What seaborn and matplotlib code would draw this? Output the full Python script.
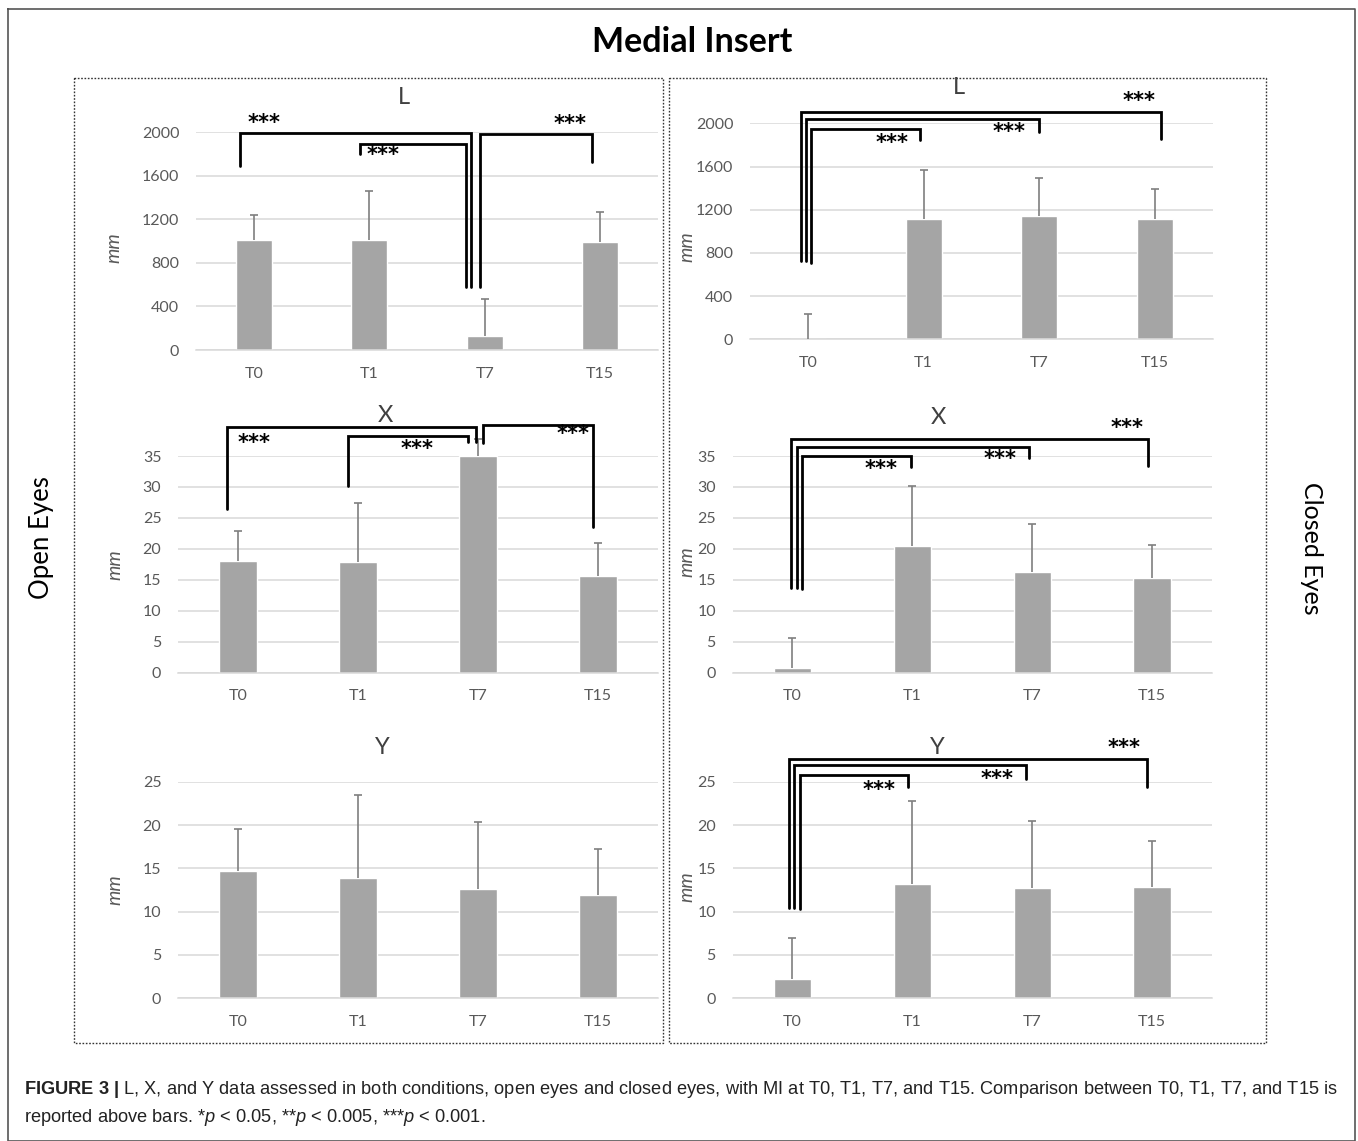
import matplotlib
matplotlib.use("Agg")
import matplotlib.pyplot as plt
import numpy as np
import pandas as pd
import seaborn as sns

# categories and values (mean, upper SD)
times = ["T0", "T1", "T7", "T15"]

open_L = [1005, 1005, 129, 995]
open_L_sd = [238, 453, 340, 267]
open_X = [17.98, 17.82, 35.0, 15.62]
open_X_sd = [4.90, 9.64, 2.70, 5.27]
open_Y = [14.65, 13.92, 12.58, 11.96]
open_Y_sd = [4.93, 9.54, 7.80, 5.31]

closed_L = [0, 1111, 1142, 1111]
closed_L_sd = [235, 457, 352, 278]
closed_X = [0.75, 20.50, 16.20, 15.24]
closed_X_sd = [4.85, 9.65, 7.80, 5.46]
closed_Y = [2.23, 13.23, 12.73, 12.88]
closed_Y_sd = [4.77, 9.57, 7.77, 5.27]

# significance brackets: (x_left, x_right, y_top, y_left_end, y_right_end)
open_L_brackets = [(-0.12, 1.88, 1995, 1684, 576),
                   (0.92, 1.84, 1893, 1795, 576),
                   (1.96, 2.93, 1979, 576, 1724)]
open_L_stars = [(0.09, 2083), (1.12, 1786), (2.74, 2070)]
open_X_brackets = [(-0.09, 1.98, 39.7, 26.5, 37.3),
                   (0.92, 1.92, 38.2, 30.1, 37.3),
                   (2.04, 2.96, 40.0, 37.1, 23.6)]
open_X_stars = [(0.13, 37.1), (1.49, 36.1), (2.79, 38.5)]

closed_L_brackets = [(-0.056, 3.05, 2102, 725, 1852),
                     (-0.013, 2.00, 2037, 725, 1923),
                     (0.027, 0.97, 1948, 710, 1846)]
closed_L_stars = [(0.73, 1821), (1.74, 1923), (2.86, 2207)]
closed_X_brackets = [(-0.016, 2.97, 37.7, 13.6, 33.4),
                     (0.04, 1.97, 36.5, 13.6, 34.6),
                     (0.083, 0.99, 35.0, 13.5, 33.3)]
closed_X_stars = [(0.74, 32.85), (1.73, 34.46), (2.79, 39.6)]
closed_Y_brackets = [(-0.03, 2.96, 27.65, 10.46, 24.4),
                     (0.016, 1.95, 26.9, 10.38, 25.3),
                     (0.064, 0.96, 25.8, 10.27, 24.35)]
closed_Y_stars = [(0.72, 24.04), (1.71, 25.27), (2.77, 28.85)]

W, H = 1358, 1141
BAR = "#a5a5a5"
GRID = "#d9d9d9"
TICK = "#595959"

sns.set_theme(style="white")
plt.rcParams["font.family"] = ["Lato", "DejaVu Sans"]
plt.rcParams["mathtext.fontset"] = "custom"
plt.rcParams["mathtext.rm"] = "Liberation Sans"
plt.rcParams["mathtext.it"] = "Liberation Sans:italic"
plt.rcParams["mathtext.bf"] = "Liberation Sans:bold"

fig = plt.figure(figsize=(W / 100, H / 100), dpi=100)
fig.patch.set_facecolor("white")


def fx(x):
    return x / W


def fy(y):
    return 1 - y / H


def panel(x0, x1, ytop, ybot, vals, sds, ymax, step, title, tpos, mpos,
          brackets=(), stars=()):
    ax = fig.add_axes([fx(x0), fy(ybot), (x1 - x0) / W, (ybot - ytop) / H])
    df = pd.DataFrame({"time": times, "value": vals})
    sns.barplot(data=df, x="time", y="value", color=BAR, saturation=1,
                width=0.31, errorbar=None, ax=ax, zorder=2)
    eb = ax.errorbar(np.arange(len(times)), vals,
                     yerr=[np.zeros(len(vals)), sds], fmt="none",
                     ecolor="#7f7f7f", elinewidth=1.2, capsize=2.6,
                     capthick=1.2, clip_on=False, zorder=3)
    # only the upper cap is visible in the original
    eb[1][0].set_visible(False)
    ax.set_xlim(-0.5, 3.5)
    ax.set_ylim(0, ymax)
    ax.set_yticks(np.arange(0, ymax + step / 2, step))
    ax.set_axisbelow(True)
    ax.yaxis.grid(True, color=GRID, lw=1.1)
    ax.xaxis.grid(False)
    for s in ["top", "right", "left"]:
        ax.spines[s].set_visible(False)
    ax.spines["bottom"].set_color(GRID)
    ax.spines["bottom"].set_linewidth(1.1)
    ax.tick_params(axis="both", length=0, labelsize=11.5, labelcolor=TICK)
    ax.tick_params(axis="y", pad=12)
    ax.tick_params(axis="x", pad=12)
    ax.set_xlabel("")
    ax.set_ylabel("")
    ax.patch.set_alpha(0)
    for (xl, xr, yt, yl, yr) in brackets:
        ax.plot([xl, xl, xr, xr], [yl, yt, yt, yr], color="black", lw=2.0,
                clip_on=False, zorder=4, solid_joinstyle="miter")
    for (sx, sy) in stars:
        ax.text(sx, sy, "***", ha="center", va="center", fontsize=15,
                fontweight="bold", family="DejaVu Sans", color="black",
                clip_on=False, zorder=5)
    fig.text(fx(tpos[0]), fy(tpos[1]), title, ha="center", va="center",
             fontsize=17, color="#404040")
    fig.text(fx(mpos[0]), fy(mpos[1]), "mm", ha="center", va="center",
             rotation=90, fontsize=14, style="italic", color=TICK)
    return ax


# left column: open eyes
panel(196, 658, 132, 350, open_L, open_L_sd, 2000, 400, "L",
      (404, 98), (114, 248), open_L_brackets, open_L_stars)
panel(178, 658, 456, 672.7, open_X, open_X_sd, 35, 5, "X",
      (385, 415), (115, 565), open_X_brackets, open_X_stars)
panel(178, 658, 781.7, 998.3, open_Y, open_Y_sd, 25, 5, "Y",
      (382, 747), (115, 890))

# right column: closed eyes
panel(750, 1213, 123.3, 339.3, closed_L, closed_L_sd, 2000, 400, "L",
      (959, 88), (687, 247), closed_L_brackets, closed_L_stars)
panel(732.5, 1212, 456, 672.7, closed_X, closed_X_sd, 35, 5, "X",
      (938, 417), (687, 562), closed_X_brackets, closed_X_stars)
panel(732.5, 1212, 781.7, 998.3, closed_Y, closed_Y_sd, 25, 5, "Y",
      (937, 748), (687, 887), closed_Y_brackets, closed_Y_stars)

# frames
over = fig.add_axes([0, 0, 1, 1], zorder=-1)
over.set_xlim(0, W)
over.set_ylim(H, 0)
over.axis("off")
over.plot([8, 1355, 1355, 8, 8], [9, 9, 1141, 1141, 9], color="#555555", lw=1.2)
for (x0, x1) in [(74, 663), (669, 1266)]:
    over.plot([x0, x1, x1, x0, x0], [78, 78, 1043, 1043, 78], color="#333333",
              lw=1.0, linestyle=(0, (1.2, 1.2)))

fig.text(fx(692), fy(42), "Medial Insert", ha="center", va="center",
         fontsize=24.5, fontweight="bold", color="black")
fig.text(fx(42), fy(538), "Open Eyes", ha="center", va="center",
         rotation=90, fontsize=18.5, color="black")
fig.text(fx(1312), fy(548), "Closed Eyes", ha="center", va="center",
         rotation=270, fontsize=18, color="black")

cap1 = (r"$\mathbf{FIGURE\ 3\ |}$ L, X, and Y data assessed in both conditions, "
        "open eyes and closed eyes, with MI at T0, T1, T7, and T15. "
        "Comparison between T0, T1, T7, and T15 is")
cap2 = r"reported above bars. *$p$ < 0.05, **$p$ < 0.005, ***$p$ < 0.001."
for txt, yy in [(cap1, 1090), (cap2, 1117)]:
    fig.text(fx(24), fy(yy), txt, ha="left", va="center", fontsize=13.15,
             family="Liberation Sans", color="#222222")

fig.savefig("out.png", dpi=100)
